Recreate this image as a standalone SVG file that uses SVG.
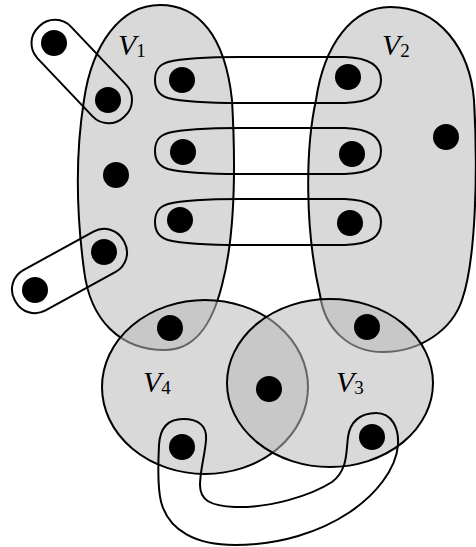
<svg xmlns="http://www.w3.org/2000/svg" width="476" height="547" viewBox="0 0 476 547">
<style>
.set{fill:#bababa;fill-opacity:0.55;stroke:#000;stroke-width:2}
.loop{fill:none;stroke:#000;stroke-width:2}
.dot{fill:#000}
.lbl{font-family:"Liberation Serif","Times New Roman",serif;font-size:30px;fill:#000}
.sub{font-style:normal;font-size:19px}
</style>
<rect width="476" height="547" fill="#fff"/>
<g id="V1">
<path class="set" d="M160,5 C198,5 225,35 232,100 C236,170 234,240 222,285 C212,325 195,350 165,350 C120,350 90,320 84,270 C76,210 76,150 84,100 C92,45 120,5 160,5 Z"/>
</g>
<g id="V2">
<path class="set" d="M390,7 C440,7 470,50 474,100 C478,170 476,260 462,300 C452,330 420,352 383,352 C350,352 325,330 320,295 C305,230 305,150 316,100 C324,45 352,7 390,7 Z"/>
</g>
<g id="V4">
<ellipse class="set" cx="205" cy="387" rx="103" ry="87"/>
</g>
<g id="V3">
<ellipse class="set" cx="330" cy="383" rx="103" ry="84"/>
</g>
<g id="labels">
<text class="lbl" x="118" y="55"><tspan font-style="italic">V</tspan><tspan class="sub" dy="2">1</tspan></text>
<text class="lbl" x="382" y="55"><tspan font-style="italic">V</tspan><tspan class="sub" dy="2">2</tspan></text>
<text class="lbl" x="143" y="392"><tspan font-style="italic">V</tspan><tspan class="sub" dy="2">4</tspan></text>
<text class="lbl" x="336" y="392"><tspan font-style="italic">V</tspan><tspan class="sub" dy="2">3</tspan></text>
</g>
<g id="edges">
<path id="e1" class="loop" d="M240,57 L345,57 C372,58 381,68 381,80 C381,94 372,102 345,103 L240,103 C200,103 180,101 168,98 C158,95 155,88 155,80 C155,71 158,65 168,62 C180,59 200,57 240,57 Z"/>
<path id="e2" class="loop" transform="translate(0,71)" d="M240,57 L345,57 C372,58 381,68 381,80 C381,94 372,102 345,103 L240,103 C200,103 180,101 168,98 C158,95 155,88 155,80 C155,71 158,65 168,62 C180,59 200,57 240,57 Z"/>
<path id="e3" class="loop" transform="translate(0,142)" d="M240,57 L345,57 C372,58 381,68 381,80 C381,94 372,102 345,103 L240,103 C200,103 180,101 168,98 C158,95 155,88 155,80 C155,71 158,65 168,62 C180,59 200,57 240,57 Z"/>
<rect id="e4" class="loop" x="19.75" y="48.5" width="124" height="46" rx="22" transform="rotate(46.5 81.75 71.5)"/>
<rect id="e5" class="loop" x="7.5" y="248" width="124" height="46" rx="22" transform="rotate(-28.8 69.5 271)"/>
<path id="e6" class="loop" d="M183,419 C200,419 207,427 206,440 C205,455 200,470 200,485 C200,500 210,506 235,507 C270,508 310,496 332,482 C348,470 346,452 348,437 C350,422 360,413 376,413 C392,413 399,428 398,445 C396,470 375,495 350,512 C320,532 280,545 235,545 C195,545 170,530 162,505 C157,490 158,465 159,445 C160,428 168,419 183,419 Z"/>
</g>
<g id="vertices">
<circle class="dot" cx="54" cy="43" r="13"/>
<circle class="dot" cx="108" cy="100" r="13"/>
<circle class="dot" cx="116" cy="175" r="13"/>
<circle class="dot" cx="104" cy="252" r="13"/>
<circle class="dot" cx="35" cy="290" r="13"/>
<circle class="dot" cx="182" cy="80" r="13"/>
<circle class="dot" cx="183" cy="152" r="13"/>
<circle class="dot" cx="180" cy="220" r="13"/>
<circle class="dot" cx="348" cy="77" r="13"/>
<circle class="dot" cx="352" cy="154" r="13"/>
<circle class="dot" cx="350" cy="223" r="13"/>
<circle class="dot" cx="446" cy="137" r="13"/>
<circle class="dot" cx="170" cy="328" r="13"/>
<circle class="dot" cx="367" cy="327" r="13"/>
<circle class="dot" cx="269" cy="389" r="13"/>
<circle class="dot" cx="182" cy="447" r="13"/>
<circle class="dot" cx="372" cy="437" r="13"/>
</g>
</svg>
